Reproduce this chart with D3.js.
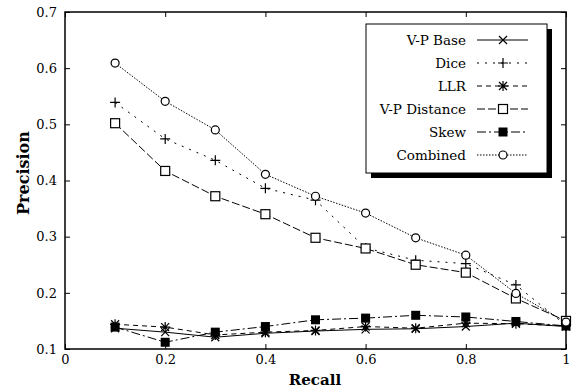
<!DOCTYPE html>
<html>
<head>
<meta charset="utf-8">
<script src="https://cdn.jsdelivr.net/npm/d3@7"></script>
<style>
  body { margin: 0; background: #fff; }
  svg text { font-family: "DejaVu Serif", "Liberation Serif", serif; fill: #000; }
</style>
</head>
<body>
<div id="chart"></div>
<script>
const recall = [0.1, 0.2, 0.3, 0.4, 0.5, 0.6, 0.7, 0.8, 0.9, 1.0]
const vpBase = [0.137, 0.130, 0.121, 0.128, 0.132, 0.135, 0.136, 0.140, 0.146, 0.140]
const dice = [0.539, 0.474, 0.436, 0.386, 0.365, 0.280, 0.258, 0.252, 0.214, 0.142]
const llr = [0.144, 0.139, 0.125, 0.130, 0.133, 0.140, 0.137, 0.146, 0.145, 0.141]
const vpDistance = [0.502, 0.417, 0.372, 0.340, 0.298, 0.279, 0.250, 0.236, 0.190, 0.150]
const skew = [0.139, 0.112, 0.130, 0.140, 0.152, 0.155, 0.160, 0.157, 0.149, 0.141]
const combined = [0.609, 0.541, 0.490, 0.411, 0.372, 0.342, 0.298, 0.267, 0.199, 0.148]

const seriesNames = ["V-P Base", "Dice", "LLR", "V-P Distance", "Skew", "Combined"]
const seriesValues = [vpBase, dice, llr, vpDistance, skew, combined]
const xTicks = [0, 0.2, 0.4, 0.6, 0.8, 1]
const yTicks = [0.1, 0.2, 0.3, 0.4, 0.5, 0.6, 0.7]

const style = {
  "V-P Base":     { dash: null,        marker: "x" },
  "Dice":         { dash: "2,6",       marker: "plus" },
  "LLR":          { dash: "5,4",       marker: "star" },
  "V-P Distance": { dash: "8,3",       marker: "square" },
  "Skew":         { dash: "9,3,2,3",   marker: "filledSquare" },
  "Combined":     { dash: "1.5,1.5",   marker: "circle" }
}

const dim = { outer_width: 573, outer_height: 392, ml: 65, mt: 12, width: 501, height: 337 }

const svg = d3.select("#chart").append("svg")
  .attr("width", dim.outer_width).attr("height", dim.outer_height)

const d3x = d3.scaleLinear().domain([0, 1]).range([0, dim.width])
const d3y = d3.scaleLinear().domain([0.1, 0.7]).range([dim.height, 0])

const main_g = svg.append("g").attr("transform", "translate(" + dim.ml + "," + dim.mt + ")")

// axes with inward ticks on all four sides
const tickLen = 5
main_g.append("g").attr("transform", "translate(0," + dim.height + ")")
  .call(d3.axisBottom(d3x).tickValues(xTicks).tickSize(-tickLen).tickPadding(6).tickFormat(d => d))
main_g.append("g")
  .call(d3.axisTop(d3x).tickValues(xTicks).tickSize(-tickLen).tickFormat(""))
main_g.append("g")
  .call(d3.axisLeft(d3y).tickValues(yTicks).tickSize(-tickLen).tickPadding(8).tickFormat(d3.format(".1f")))
main_g.append("g").attr("transform", "translate(" + dim.width + ",0)")
  .call(d3.axisRight(d3y).tickValues(yTicks).tickSize(-tickLen).tickFormat(""))
main_g.selectAll(".domain").remove()
main_g.selectAll(".tick line").attr("stroke", "#000").attr("stroke-width", 1)
main_g.selectAll(".tick text").style("font-size", "13px").style("font-family", "DejaVu Serif, serif")

main_g.append("rect")
  .attr("x", 0).attr("y", 0).attr("width", dim.width).attr("height", dim.height)
  .attr("fill", "none").attr("stroke", "#000").attr("stroke-width", 1.5)

// axis titles
svg.append("text")
  .attr("x", 315).attr("y", 385)
  .attr("text-anchor", "middle").style("font-size", "15px").style("font-weight", "bold")
  .text("Recall")
svg.append("text")
  .attr("transform", "translate(23,173) rotate(-90)")
  .attr("text-anchor", "middle").attr("dy", "0.35em")
  .style("font-size", "16px").style("font-weight", "bold")
  .text("Precision")

function drawMarker(g, type, cx, cy) {
  const s = 4
  if (type === "x") {
    g.append("path").attr("d", `M${cx-s},${cy-s}L${cx+s},${cy+s}M${cx-s},${cy+s}L${cx+s},${cy-s}`)
      .attr("stroke", "#000").attr("stroke-width", 1.2)
  } else if (type === "plus") {
    g.append("path").attr("d", `M${cx-5},${cy}L${cx+5},${cy}M${cx},${cy-5}L${cx},${cy+5}`)
      .attr("stroke", "#000").attr("stroke-width", 1.2)
  } else if (type === "star") {
    g.append("path").attr("d", `M${cx-s},${cy-s}L${cx+s},${cy+s}M${cx-s},${cy+s}L${cx+s},${cy-s}M${cx-5},${cy}L${cx+5},${cy}M${cx},${cy-5}L${cx},${cy+5}`)
      .attr("stroke", "#000").attr("stroke-width", 1.2)
  } else if (type === "square") {
    g.append("rect").attr("x", cx - 4.5).attr("y", cy - 4.5).attr("width", 9).attr("height", 9)
      .attr("fill", "#fff").attr("stroke", "#000").attr("stroke-width", 1.2)
  } else if (type === "filledSquare") {
    g.append("rect").attr("x", cx - 4.5).attr("y", cy - 4.5).attr("width", 9).attr("height", 9)
      .attr("fill", "#000")
  } else if (type === "circle") {
    g.append("circle").attr("cx", cx).attr("cy", cy).attr("r", 4)
      .attr("fill", "#fff").attr("stroke", "#000").attr("stroke-width", 1.2)
  }
}

const line = d3.line().x(d => d3x(d[0])).y(d => d3y(d[1]))

seriesNames.forEach((name, i) => {
  const pts = recall.map((r, j) => [r, seriesValues[i][j]])
  const st = style[name]
  main_g.append("path")
    .attr("d", line(pts))
    .attr("fill", "none").attr("stroke", "#000").attr("stroke-width", 1)
    .attr("stroke-dasharray", st.dash)
  const mg = main_g.append("g")
  pts.forEach(p => drawMarker(mg, st.marker, d3x(p[0]), d3y(p[1])))
})

// legend
const lg = svg.append("g").attr("transform", "translate(366,24)")
lg.append("rect").attr("x", 5).attr("y", 5).attr("width", 181).attr("height", 149).attr("fill", "#000")
lg.append("rect").attr("x", 0).attr("y", 0).attr("width", 181).attr("height", 149)
  .attr("fill", "#fff").attr("stroke", "#000").attr("stroke-width", 1)
seriesNames.forEach((name, i) => {
  const y = 16 + i * 23
  const st = style[name]
  lg.append("text").attr("x", 100).attr("y", y).attr("dy", "0.35em")
    .attr("text-anchor", "end").style("font-size", "13.5px").text(name)
  lg.append("path").attr("d", `M111,${y}L162,${y}`)
    .attr("fill", "none").attr("stroke", "#000").attr("stroke-width", 1)
    .attr("stroke-dasharray", st.dash)
  drawMarker(lg, st.marker, 137, y)
})
</script>
</body>
</html>
